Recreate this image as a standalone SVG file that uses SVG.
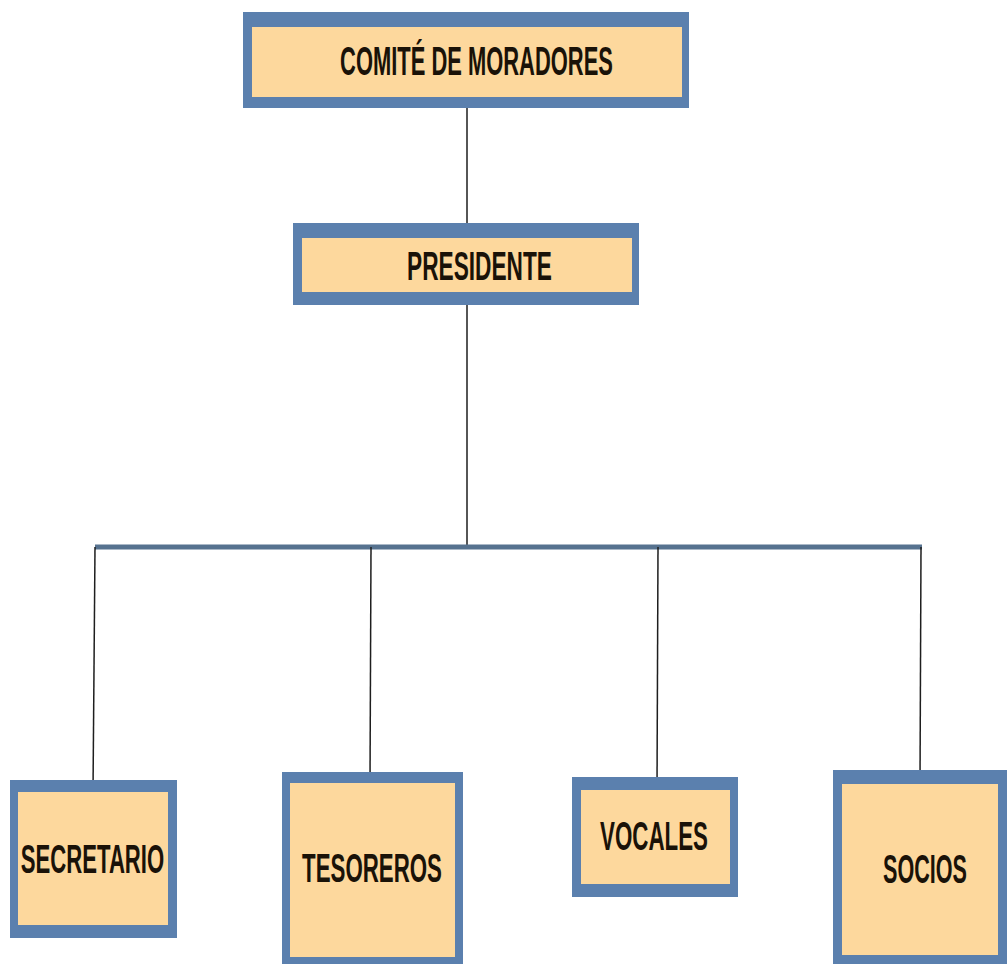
<svg xmlns="http://www.w3.org/2000/svg" width="1007" height="964" viewBox="0 0 1007 964">
<style>
.frame{fill:#5b80ae}
.fill{fill:#fdd89d}
.lbl{font-family:"Liberation Sans",Arial,sans-serif;font-weight:bold;font-size:40px;fill:#1a1208;text-anchor:middle}
.ln{stroke:#1e1e1e;stroke-width:1.5;fill:none}
.bar{stroke:#56728f;stroke-width:5;fill:none}
</style>
<rect width="1007" height="964" fill="#ffffff"/>
<g id="connectors">
<line class="ln" x1="467" y1="108" x2="467" y2="223"/>
<line class="ln" x1="467" y1="305" x2="467" y2="547"/>
<line class="bar" x1="95" y1="547" x2="922" y2="547"/>
<line class="ln" x1="95" y1="547" x2="93" y2="792"/>
<line class="ln" x1="371" y1="547" x2="370" y2="783"/>
<line class="ln" x1="658" y1="547" x2="657" y2="790"/>
<line class="ln" x1="921" y1="547" x2="920" y2="784"/>
</g>
<g id="comite">
<rect class="frame" x="243" y="12" width="446" height="96"/>
<rect class="fill" x="252" y="27" width="430" height="70"/>
<text class="lbl" transform="translate(476.5,75) scale(0.548,1)">COMITÉ DE MORADORES</text>
</g>
<g id="presidente">
<rect class="frame" x="293" y="223" width="346" height="82"/>
<rect class="fill" x="302" y="238" width="330" height="54"/>
<text class="lbl" transform="translate(479.5,280) scale(0.567,1)">PRESIDENTE</text>
</g>
<g id="secretario">
<rect class="frame" x="10" y="780" width="167" height="158"/>
<rect class="fill" x="18" y="792" width="150" height="133"/>
<text class="lbl" transform="translate(92.5,873) scale(0.553,1)">SECRETARIO</text>
</g>
<g id="tesoreros">
<rect class="frame" x="282" y="772" width="181" height="192"/>
<rect class="fill" x="290" y="783" width="165" height="174"/>
<text class="lbl" transform="translate(372,882) scale(0.557,1)">TESOREROS</text>
</g>
<g id="vocales">
<rect class="frame" x="572" y="777" width="166" height="120"/>
<rect class="fill" x="581" y="790" width="149" height="94"/>
<text class="lbl" transform="translate(654,850) scale(0.558,1)">VOCALES</text>
</g>
<g id="socios">
<rect class="frame" x="833" y="770" width="174" height="194"/>
<rect class="fill" x="842" y="784" width="156" height="171"/>
<text class="lbl" transform="translate(925,883) scale(0.54,1)">SOCIOS</text>
</g>
</svg>
